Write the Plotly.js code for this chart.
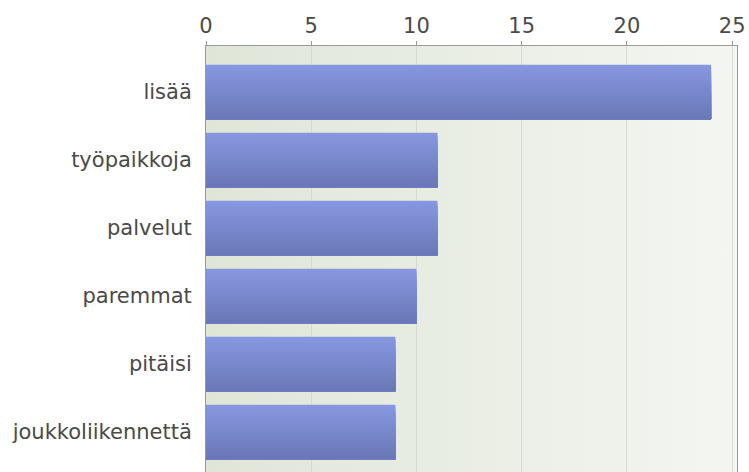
<!DOCTYPE html>
<html>
<head>
<meta charset="utf-8">
<script src="https://cdn.plot.ly/plotly-3.0.1.min.js"></script>
<style>html,body{margin:0;padding:0;background:#fff;}</style>
</head>
<body>
<div id="chart" style="width:749px;height:472px;"></div>
<script>
const categories = ["lisää", "työpaikkoja", "palvelut", "paremmat", "pitäisi", "joukkoliikennettä"];
const values = [24, 11, 11, 10, 9, 9];
const tickValues = [0, 5, 10, 15, 20, 25];
const tickLabels = ["0", "5", "10", "15", "20", "25"];

// vertical gradient inside each bar: the same bars drawn as nested layers,
// each starting a little lower and reaching the bottom edge of the bar
const nStrips = 18;
const topCol = [134, 151, 224];
const botCol = [106, 120, 184];
const barWidth = 0.8;
const traces = [];
for (let i = 0; i < nStrips; i++) {
  const t = i / (nStrips - 1);
  const c = topCol.map((v, k) => Math.round(v + (botCol[k] - v) * t));
  const step = barWidth / nStrips;
  traces.push({
    type: "bar",
    orientation: "h",
    x: values,
    y: categories,
    width: barWidth - i * step,
    offset: -barWidth / 2 + i * step,
    marker: { color: `rgb(${c[0]},${c[1]},${c[2]})`, line: { width: 0 } },
    hoverinfo: "x+y",
    showlegend: false
  });
}

const bgSvg = '<svg xmlns="http://www.w3.org/2000/svg" width="100" height="100" preserveAspectRatio="none">' +
  '<defs><linearGradient id="g" x1="0" y1="0" x2="1" y2="0">' +
  '<stop offset="0" stop-color="#dfe6d8"/><stop offset="1" stop-color="#f4f6f1"/>' +
  '</linearGradient></defs><rect width="100" height="100" fill="url(#g)"/></svg>';

const layout = {
  width: 749,
  height: 472,
  margin: { l: 206, r: 12, t: 46, b: 0, pad: 0 },
  paper_bgcolor: "#ffffff",
  plot_bgcolor: "rgba(0,0,0,0)",
  barmode: "overlay",
  font: { family: "DejaVu Sans, sans-serif", size: 21, color: "#4a4a4a" },
  xaxis: {
    side: "top",
    range: [0, 25.23],
    tickvals: tickValues,
    ticktext: tickLabels,
    ticks: "outside",
    ticklen: 4,
    tickcolor: "#999999",
    showline: true,
    linecolor: "#999999",
    linewidth: 1,
    showgrid: true,
    gridcolor: "#d6dbd2",
    gridwidth: 1,
    zeroline: false,
    tickfont: { family: "DejaVu Sans, sans-serif", size: 21, color: "#4a4a4a" }
  },
  yaxis: {
    type: "category",
    categoryorder: "array",
    categoryarray: categories,
    range: [5.588, -0.676],
    showline: true,
    mirror: true,
    linecolor: "#999999",
    linewidth: 1,
    showgrid: false,
    zeroline: false,
    ticks: "",
    ticklabelstandoff: 9,
    tickfont: { family: "DejaVu Sans, sans-serif", size: 21, color: "#4a4a4a" }
  },
  images: [{
    source: "data:image/svg+xml;charset=utf-8," + encodeURIComponent(bgSvg),
    xref: "paper", yref: "paper",
    x: 0, y: 1, sizex: 1, sizey: 1,
    xanchor: "left", yanchor: "top",
    sizing: "stretch",
    layer: "below"
  }]
};

Plotly.newPlot("chart", traces, layout, { displayModeBar: false, staticPlot: true });
</script>
</body>
</html>
